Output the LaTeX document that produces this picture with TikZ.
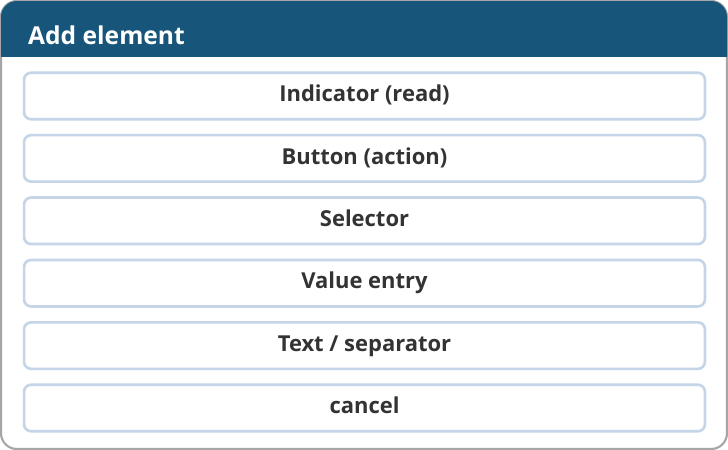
\documentclass[tikz,border=0pt]{standalone}
\usepackage{fontspec}
\setmainfont{Open Sans}
\definecolor{headblue}{HTML}{17557A}
\definecolor{btnborder}{HTML}{C5D5E8}
\definecolor{btntext}{HTML}{333333}
\tikzset{
  choice/.style={draw=btnborder,line width=1.5pt,fill=white,rounded corners=4pt,
    minimum width=13.62cm,minimum height=0.93cm,inner sep=0pt,
    text height=1.6ex,text depth=0.4ex,
    text=btntext,font=\fontsize{12.5}{14}\selectfont\bfseries}
}
\begin{document}
\begin{tikzpicture}[x=0.02cm,y=-0.02cm]
	\useasboundingbox (0,0) rectangle (728,450);
	\draw[fill=white,draw=gray!70,line width=1.2pt,rounded corners=9pt]
	(1,1) rectangle (727,449);
	\begin{scope}
	\clip[rounded corners=9pt] (1,1) rectangle (727,449);
	\fill[headblue] (0,0) rectangle (728,57);
	\end{scope}
	\node[anchor=west,text=white,font=\fontsize{14}{16}\selectfont\bfseries]
	  (title) at (22,35) {Add element};
	\foreach \i/\lbl in {0/{Indicator (read)},1/{Button (action)},2/{Selector},
	  3/{Value entry},4/{Text / separator},5/{cancel}}
	  \node[choice] (btn\i) at (364.5,96+62.4*\i) {\lbl};
\end{tikzpicture}
\end{document}
